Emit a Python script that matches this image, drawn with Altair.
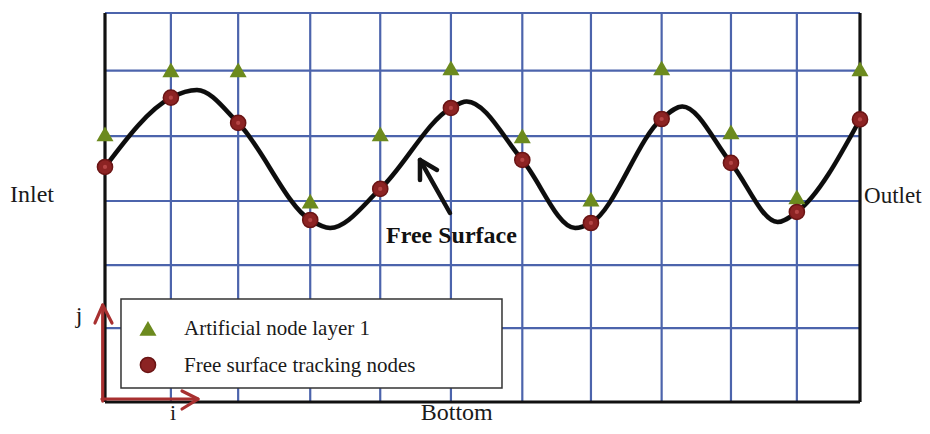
import altair as alt
import pandas as pd

# ---- data (grid units: x in cells from inlet wall, y in cells above bottom) ----
grid_x = [0.96, 1.94, 2.99, 4.01, 5.04, 6.08, 7.08, 8.11, 9.12, 10.08]
grid_y = [1.14, 2.11, 3.10, 4.10, 5.11, 6.0]
x_min, x_max = 0.0, 11.0
y_min, y_max = 0.0, 6.0

node_x = [0.0, 0.96, 1.94, 2.99, 4.01, 5.04, 6.08, 7.08, 8.11, 9.12, 10.08, 11.0]
track_y = [3.625, 4.694, 4.304, 2.807, 3.286, 4.535, 3.733, 2.761, 4.365, 3.687, 2.931, 4.358]
artif_y = [4.134, 5.121, 5.121, 3.100, 4.134, 5.152, 4.103, 3.131, 5.152, 4.165, 3.162, 5.137]

surf_x = [0.0, 0.96, 1.34, 1.94, 2.99, 3.28, 4.01, 5.04, 5.27, 6.08, 6.85, 7.08, 8.11, 8.41, 9.12, 9.80, 10.08, 11.0]
surf_y = [3.625, 4.694, 4.813, 4.304, 2.807, 2.684, 3.286, 4.535, 4.635, 3.733, 2.684, 2.761, 4.365, 4.558, 3.687, 2.777, 2.931, 4.358]

legend_labels = ["Artificial node layer 1", "Free surface tracking nodes"]
legend_sym_x = 0.626
legend_sym_y = [1.137, 0.571]
legend_text_x = 1.151
legend_text_y = [1.033, 0.468]
legend_box = [0.233, 1.589, 5.784, 0.216]

label_text = ["Inlet", "Outlet", "Bottom", "j", "i"]
label_x = [-1.384, 11.06, 4.60, -0.379, 0.991]
label_y = [3.085, 3.07, -0.278, 1.219, -0.278]
label_size = [24, 23, 24, 24, 22]
label_align = ["left", "left", "left", "center", "center"]

fs_text = "Free Surface"
fs_x, fs_y = 4.094, 2.453

# arrows: (segment, order, x, y)
red_seg = ["v", "v", "vh", "vh", "vh", "h", "h", "hh", "hh", "hh"]
red_x = [-0.0335, -0.0335, -0.146, -0.0335, 0.102, -0.044, 1.355, 1.122, 1.355, 1.122]
red_y = [0.015, 1.496, 1.219, 1.496, 1.219, 0.046, 0.046, 0.170, 0.046, -0.108]

blk_seg = ["s", "s", "h", "h", "h"]
blk_x = [5.026, 4.589, 4.589, 4.589, 4.837]
blk_y = [2.915, 3.733, 3.424, 3.733, 3.579]

# ---- tables ----
grid_df = pd.DataFrame(
    [{"x": g, "y": y_min, "x2": g, "y2": y_max} for g in grid_x]
    + [{"x": x_min, "y": g, "x2": x_max, "y2": g} for g in grid_y]
)
border_df = pd.DataFrame([
    {"x": x_min, "y": y_min, "x2": x_min, "y2": y_max},
    {"x": x_max, "y": y_min, "x2": x_max, "y2": y_max},
    {"x": x_min, "y": y_min, "x2": x_max, "y2": y_min},
])
nodes_df = pd.DataFrame({"x": node_x, "track": track_y, "artif": artif_y})
surf_df = pd.DataFrame({"x": surf_x, "y": surf_y})
box_df = pd.DataFrame([{"x": legend_box[0], "y": legend_box[1], "x2": legend_box[2], "y2": legend_box[3]}])
leg_df = pd.DataFrame({"x": [legend_sym_x] * 2, "y": legend_sym_y, "tx": [legend_text_x] * 2,
                       "ty": legend_text_y, "label": legend_labels})
lab_df = pd.DataFrame({"x": label_x, "y": label_y, "t": label_text, "a": label_align, "s": label_size})
fs_df = pd.DataFrame({"x": [fs_x], "y": [fs_y], "t": [fs_text]})
red_df = pd.DataFrame({"seg": red_seg, "k": list(range(len(red_seg))), "x": red_x, "y": red_y})
blk_df = pd.DataFrame({"seg": blk_seg, "k": list(range(len(blk_seg))), "x": blk_x, "y": blk_y})

xs = alt.Scale(domain=[x_min, x_max], nice=False, zero=False)
ys = alt.Scale(domain=[y_min, y_max], nice=False, zero=False)


def X(f="x"):
    return alt.X(f"{f}:Q", scale=xs, axis=None)


def Y(f="y"):
    return alt.Y(f"{f}:Q", scale=ys, axis=None)


BLUE = "#4C64AC"
RED = "#8C2323"
GREEN = "#6C8A1E"
SERIF = "Liberation Serif"

grid = alt.Chart(grid_df).mark_rule(color=BLUE, strokeWidth=2.2).encode(
    x=X(), y=Y(), x2="x2:Q", y2="y2:Q")
border = alt.Chart(border_df).mark_rule(color="#111111", strokeWidth=3.2).encode(
    x=X(), y=Y(), x2="x2:Q", y2="y2:Q")

shadow = alt.Chart(surf_df).mark_line(interpolate="monotone", color="#888888", strokeWidth=5,
                                      opacity=0.25, dy=2).encode(x=X(), y=Y())
curve = alt.Chart(surf_df).mark_line(interpolate="monotone", color="#0d0d0d", strokeWidth=4.5,
                                     strokeCap="round").encode(x=X(), y=Y())

artif = alt.Chart(nodes_df).mark_point(shape="triangle-up", filled=True, size=290, color=GREEN,
                                       opacity=1).encode(x=X(), y=Y("artif"))
track = alt.Chart(nodes_df).mark_circle(size=230, color=RED, opacity=1, stroke="#6A1414",
                                        strokeWidth=1.5).encode(x=X(), y=Y("track"))
track_c = alt.Chart(nodes_df).mark_circle(size=18, color="#B54545", opacity=1).encode(
    x=X(), y=Y("track"))

box = alt.Chart(box_df).mark_rect(fill="white", stroke="#333333", strokeWidth=1.5).encode(
    x=X(), y=Y(), x2="x2:Q", y2="y2:Q")
leg_tri = alt.Chart(leg_df.iloc[[0]]).mark_point(shape="triangle-up", filled=True, size=290,
                                                 color=GREEN, opacity=1).encode(x=X(), y=Y())
leg_cir = alt.Chart(leg_df.iloc[[1]]).mark_circle(size=230, color=RED, opacity=1, stroke="#6A1414",
                                                  strokeWidth=1.5).encode(x=X(), y=Y())
leg_txt = alt.Chart(leg_df).mark_text(font=SERIF, fontSize=21, align="left", baseline="alphabetic",
                                      color="#1a1a1a").encode(x=X("tx"), y=Y("ty"), text="label:N")

labels_left = alt.Chart(lab_df[lab_df["a"] == "left"]).mark_text(
    font=SERIF, align="left", baseline="alphabetic", color="#1a1a1a").encode(
    x=X(), y=Y(), text="t:N", size=alt.Size("s:Q", scale=None, legend=None))
labels_center = alt.Chart(lab_df[lab_df["a"] == "center"]).mark_text(
    font=SERIF, align="center", baseline="alphabetic", color="#1a1a1a").encode(
    x=X(), y=Y(), text="t:N", size=alt.Size("s:Q", scale=None, legend=None))
fs_label = alt.Chart(fs_df).mark_text(font=SERIF, fontSize=24, fontWeight="bold", align="left",
                                      baseline="alphabetic", color="#111111").encode(
    x=X(), y=Y(), text="t:N")

red_arrows = alt.Chart(red_df).mark_line(color="#A83030", strokeWidth=3.2, strokeCap="round",
                                         strokeJoin="round").encode(
    x=X(), y=Y(), detail="seg:N", order="k:Q")
blk_arrow = alt.Chart(blk_df).mark_line(color="#111111", strokeWidth=4.5, strokeCap="round",
                                        strokeJoin="round").encode(
    x=X(), y=Y(), detail="seg:N", order="k:Q")

chart = alt.layer(
    grid, box, border, shadow, curve, artif, track, track_c,
    leg_tri, leg_cir, leg_txt, labels_left, labels_center, fs_label, red_arrows, blk_arrow,
).properties(
    width=755, height=389,
    padding={"left": 97, "top": 5, "right": 62, "bottom": 24},
    autosize=alt.AutoSizeParams(type="none"),
).configure_view(strokeWidth=0)

chart.save("out.html", embed_options={"renderer": "svg", "actions": False})
